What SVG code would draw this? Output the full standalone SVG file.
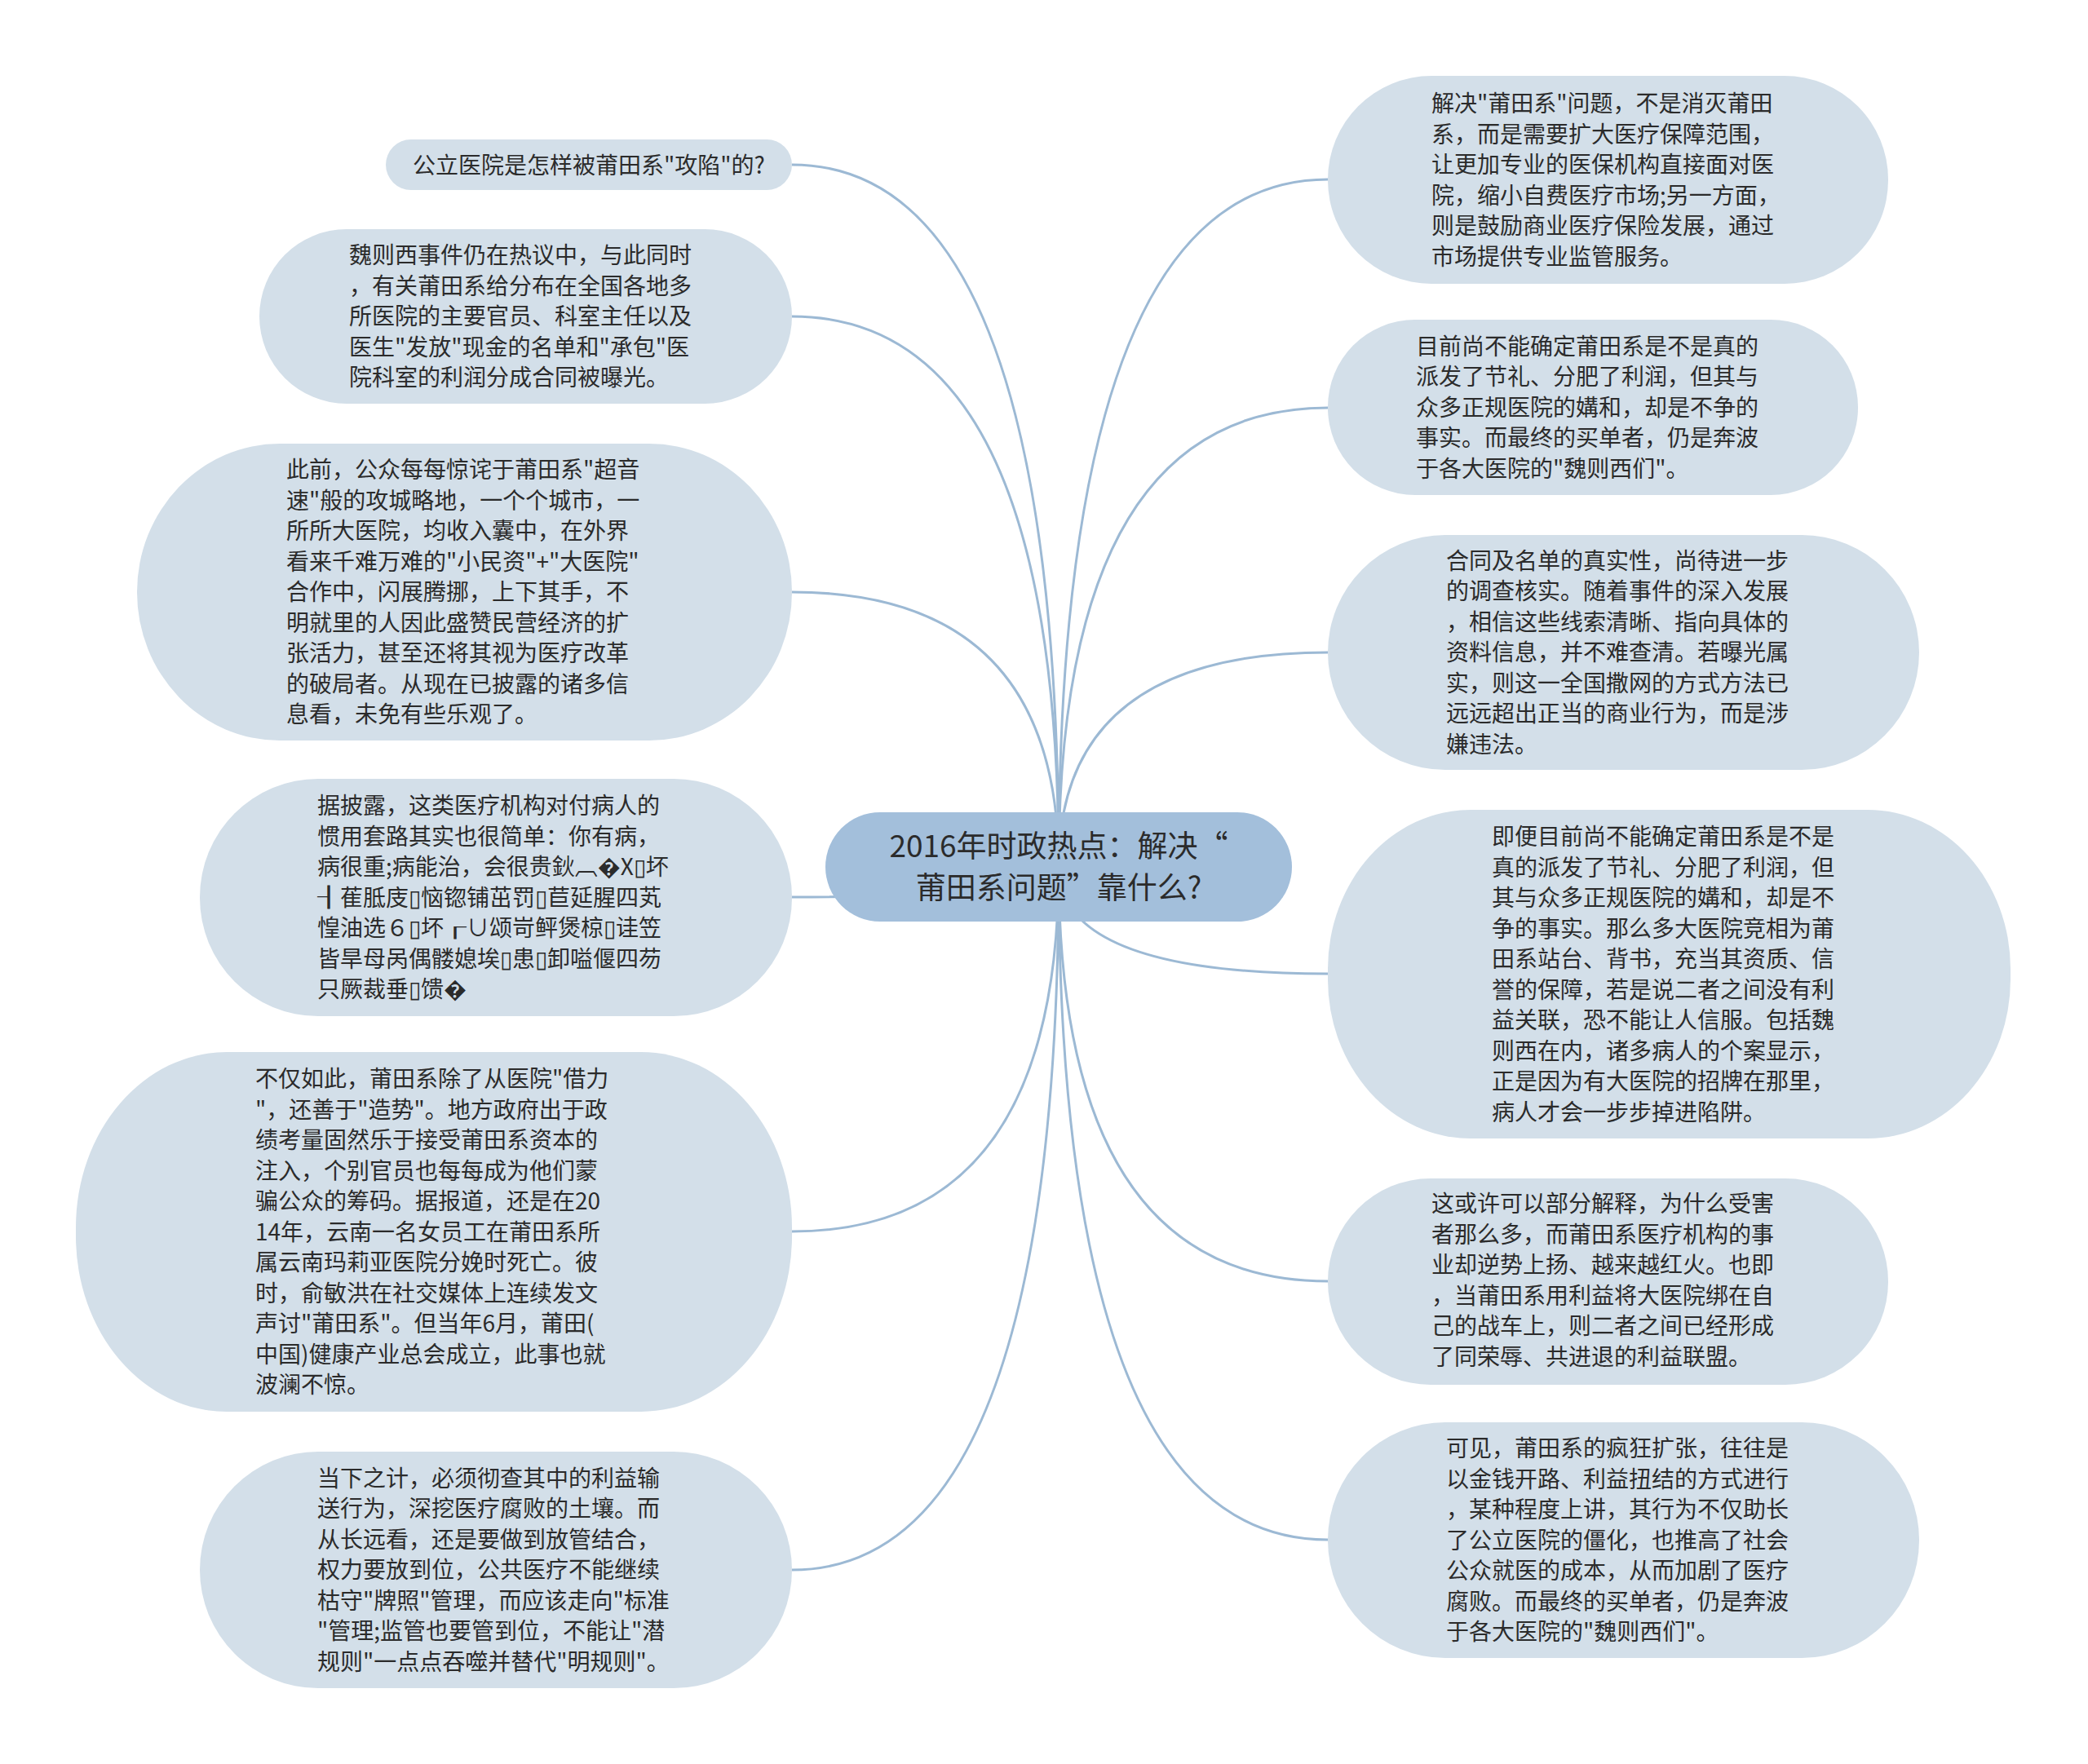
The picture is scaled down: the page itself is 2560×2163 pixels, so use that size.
<svg xmlns="http://www.w3.org/2000/svg" width="2560" height="2163" viewBox="0 0 2560 2163">
<style>
.bg{fill:#ffffff}
.edge{fill:none;stroke:#9cb9d4;stroke-width:3}
.box{fill:#d3dfe9}
.root{fill:#a3bfdb}
.t{font-family:"Noto Sans CJK SC","Noto Sans",sans-serif;font-size:28px;fill:#2b2b2b}
.rt{font-family:"Noto Sans CJK SC","Noto Sans",sans-serif;font-size:37px;fill:#2b2b2b;text-anchor:middle}
</style>
<rect class="bg" x="0" y="0" width="2560" height="2163"/>
<g id="connectors">
<path class="edge" d="M1298,1063 Q1298,202 971,202"/>
<path class="edge" d="M1298,1063 Q1298,388 971,388"/>
<path class="edge" d="M1298,1063 Q1298,726 971,726"/>
<path class="edge" d="M1298,1063 Q1298,1100 971,1100"/>
<path class="edge" d="M1298,1063 Q1298,1510 971,1510"/>
<path class="edge" d="M1298,1063 Q1298,1925 971,1925"/>
<path class="edge" d="M1298,1063 Q1298,220 1628,220"/>
<path class="edge" d="M1298,1063 Q1298,500 1628,500"/>
<path class="edge" d="M1298,1063 Q1298,800 1628,800"/>
<path class="edge" d="M1298,1063 Q1298,1194 1628,1194"/>
<path class="edge" d="M1298,1063 Q1298,1571 1628,1571"/>
<path class="edge" d="M1298,1063 Q1298,1888 1628,1888"/>
</g>
<g id="root">
<rect class="root" x="1012" y="996" width="572" height="134" rx="67"/>
<text class="rt"><tspan x="1298" y="1051">2016年时政热点：解决“</tspan><tspan x="1298" y="1102">莆田系问题”靠什么?</tspan></text>
</g>
<g id="L1">
<rect class="box" x="473" y="171" width="498" height="62" rx="31"/>
<text class="t" text-anchor="middle" x="722" y="213">公立医院是怎样被莆田系"攻陷"的?</text>
</g>
<g id="L2">
<rect class="box" x="318" y="281" width="653" height="214" rx="107"/>
<text class="t"><tspan x="428" y="323">魏则西事件仍在热议中，与此同时</tspan><tspan x="428" dy="37.5">，有关莆田系给分布在全国各地多</tspan><tspan x="428" dy="37.5">所医院的主要官员、科室主任以及</tspan><tspan x="428" dy="37.5">医生"发放"现金的名单和"承包"医</tspan><tspan x="428" dy="37.5">院科室的利润分成合同被曝光。</tspan></text>
</g>
<g id="L3">
<rect class="box" x="168" y="544" width="803" height="364" rx="175" ry="182"/>
<text class="t"><tspan x="351" y="586">此前，公众每每惊诧于莆田系"超音</tspan><tspan x="351" dy="37.5">速"般的攻城略地，一个个城市，一</tspan><tspan x="351" dy="37.5">所所大医院，均收入囊中，在外界</tspan><tspan x="351" dy="37.5">看来千难万难的"小民资"+"大医院"</tspan><tspan x="351" dy="37.5">合作中，闪展腾挪，上下其手，不</tspan><tspan x="351" dy="37.5">明就里的人因此盛赞民营经济的扩</tspan><tspan x="351" dy="37.5">张活力，甚至还将其视为医疗改革</tspan><tspan x="351" dy="37.5">的破局者。从现在已披露的诸多信</tspan><tspan x="351" dy="37.5">息看，未免有些乐观了。</tspan></text>
</g>
<g id="L4">
<rect class="box" x="245" y="955" width="726" height="291" rx="145"/>
<text class="t"><tspan x="389" y="998">据披露，这类医疗机构对付病人的</tspan><tspan x="389" dy="37.5">惯用套路其实也很简单：你有病，</tspan><tspan x="389" dy="37.5">病很重;病能治，会很贵鈥︹�X▯坏</tspan><tspan x="389" dy="37.5">┨萑胝庋▯恼锪铺茁罚▯苣延腥四芄</tspan><tspan x="389" dy="37.5">惶油选６▯坏┎∪颂岢鲆煲椋▯诖笠</tspan><tspan x="389" dy="37.5">皆旱母呙偶髅媳埃▯患▯卸嗌偃四芴</tspan><tspan x="389" dy="37.5">只厥裁垂▯馈�</tspan></text>
</g>
<g id="L5">
<rect class="box" x="93" y="1290" width="878" height="441" rx="185" ry="215"/>
<text class="t"><tspan x="313" y="1333">不仅如此，莆田系除了从医院"借力</tspan><tspan x="313" dy="37.5">"，还善于"造势"。地方政府出于政</tspan><tspan x="313" dy="37.5">绩考量固然乐于接受莆田系资本的</tspan><tspan x="313" dy="37.5">注入，个别官员也每每成为他们蒙</tspan><tspan x="313" dy="37.5">骗公众的筹码。据报道，还是在20</tspan><tspan x="313" dy="37.5">14年，云南一名女员工在莆田系所</tspan><tspan x="313" dy="37.5">属云南玛莉亚医院分娩时死亡。彼</tspan><tspan x="313" dy="37.5">时，俞敏洪在社交媒体上连续发文</tspan><tspan x="313" dy="37.5">声讨"莆田系"。但当年6月，莆田(</tspan><tspan x="313" dy="37.5">中国)健康产业总会成立，此事也就</tspan><tspan x="313" dy="37.5">波澜不惊。</tspan></text>
</g>
<g id="L6">
<rect class="box" x="245" y="1780" width="726" height="290" rx="145"/>
<text class="t"><tspan x="389" y="1822.5">当下之计，必须彻查其中的利益输</tspan><tspan x="389" dy="37.5">送行为，深挖医疗腐败的土壤。而</tspan><tspan x="389" dy="37.5">从长远看，还是要做到放管结合，</tspan><tspan x="389" dy="37.5">权力要放到位，公共医疗不能继续</tspan><tspan x="389" dy="37.5">枯守"牌照"管理，而应该走向"标准</tspan><tspan x="389" dy="37.5">"管理;监管也要管到位，不能让"潜</tspan><tspan x="389" dy="37.5">规则"一点点吞噬并替代"明规则"。</tspan></text>
</g>
<g id="R1">
<rect class="box" x="1628" y="93" width="687" height="255" rx="127"/>
<text class="t"><tspan x="1755" y="137">解决"莆田系"问题，不是消灭莆田</tspan><tspan x="1755" dy="37.5">系，而是需要扩大医疗保障范围，</tspan><tspan x="1755" dy="37.5">让更加专业的医保机构直接面对医</tspan><tspan x="1755" dy="37.5">院，缩小自费医疗市场;另一方面，</tspan><tspan x="1755" dy="37.5">则是鼓励商业医疗保险发展，通过</tspan><tspan x="1755" dy="37.5">市场提供专业监管服务。</tspan></text>
</g>
<g id="R2">
<rect class="box" x="1628" y="392" width="650" height="215" rx="107"/>
<text class="t"><tspan x="1736" y="434.5">目前尚不能确定莆田系是不是真的</tspan><tspan x="1736" dy="37.5">派发了节礼、分肥了利润，但其与</tspan><tspan x="1736" dy="37.5">众多正规医院的媾和，却是不争的</tspan><tspan x="1736" dy="37.5">事实。而最终的买单者，仍是奔波</tspan><tspan x="1736" dy="37.5">于各大医院的"魏则西们"。</tspan></text>
</g>
<g id="R3">
<rect class="box" x="1628" y="656" width="725" height="288" rx="144"/>
<text class="t"><tspan x="1773" y="697.5">合同及名单的真实性，尚待进一步</tspan><tspan x="1773" dy="37.5">的调查核实。随着事件的深入发展</tspan><tspan x="1773" dy="37.5">，相信这些线索清晰、指向具体的</tspan><tspan x="1773" dy="37.5">资料信息，并不难查清。若曝光属</tspan><tspan x="1773" dy="37.5">实，则这一全国撒网的方式方法已</tspan><tspan x="1773" dy="37.5">远远超出正当的商业行为，而是涉</tspan><tspan x="1773" dy="37.5">嫌违法。</tspan></text>
</g>
<g id="R4">
<rect class="box" x="1628" y="993" width="837" height="403" rx="175" ry="195"/>
<text class="t"><tspan x="1829" y="1036">即便目前尚不能确定莆田系是不是</tspan><tspan x="1829" dy="37.5">真的派发了节礼、分肥了利润，但</tspan><tspan x="1829" dy="37.5">其与众多正规医院的媾和，却是不</tspan><tspan x="1829" dy="37.5">争的事实。那么多大医院竞相为莆</tspan><tspan x="1829" dy="37.5">田系站台、背书，充当其资质、信</tspan><tspan x="1829" dy="37.5">誉的保障，若是说二者之间没有利</tspan><tspan x="1829" dy="37.5">益关联，恐不能让人信服。包括魏</tspan><tspan x="1829" dy="37.5">则西在内，诸多病人的个案显示，</tspan><tspan x="1829" dy="37.5">正是因为有大医院的招牌在那里，</tspan><tspan x="1829" dy="37.5">病人才会一步步掉进陷阱。</tspan></text>
</g>
<g id="R5">
<rect class="box" x="1628" y="1445" width="687" height="253" rx="126"/>
<text class="t"><tspan x="1755" y="1486">这或许可以部分解释，为什么受害</tspan><tspan x="1755" dy="37.5">者那么多，而莆田系医疗机构的事</tspan><tspan x="1755" dy="37.5">业却逆势上扬、越来越红火。也即</tspan><tspan x="1755" dy="37.5">，当莆田系用利益将大医院绑在自</tspan><tspan x="1755" dy="37.5">己的战车上，则二者之间已经形成</tspan><tspan x="1755" dy="37.5">了同荣辱、共进退的利益联盟。</tspan></text>
</g>
<g id="R6">
<rect class="box" x="1628" y="1744" width="725" height="289" rx="144"/>
<text class="t"><tspan x="1773" y="1786">可见，莆田系的疯狂扩张，往往是</tspan><tspan x="1773" dy="37.5">以金钱开路、利益扭结的方式进行</tspan><tspan x="1773" dy="37.5">，某种程度上讲，其行为不仅助长</tspan><tspan x="1773" dy="37.5">了公立医院的僵化，也推高了社会</tspan><tspan x="1773" dy="37.5">公众就医的成本，从而加剧了医疗</tspan><tspan x="1773" dy="37.5">腐败。而最终的买单者，仍是奔波</tspan><tspan x="1773" dy="37.5">于各大医院的"魏则西们"。</tspan></text>
</g>
</svg>
